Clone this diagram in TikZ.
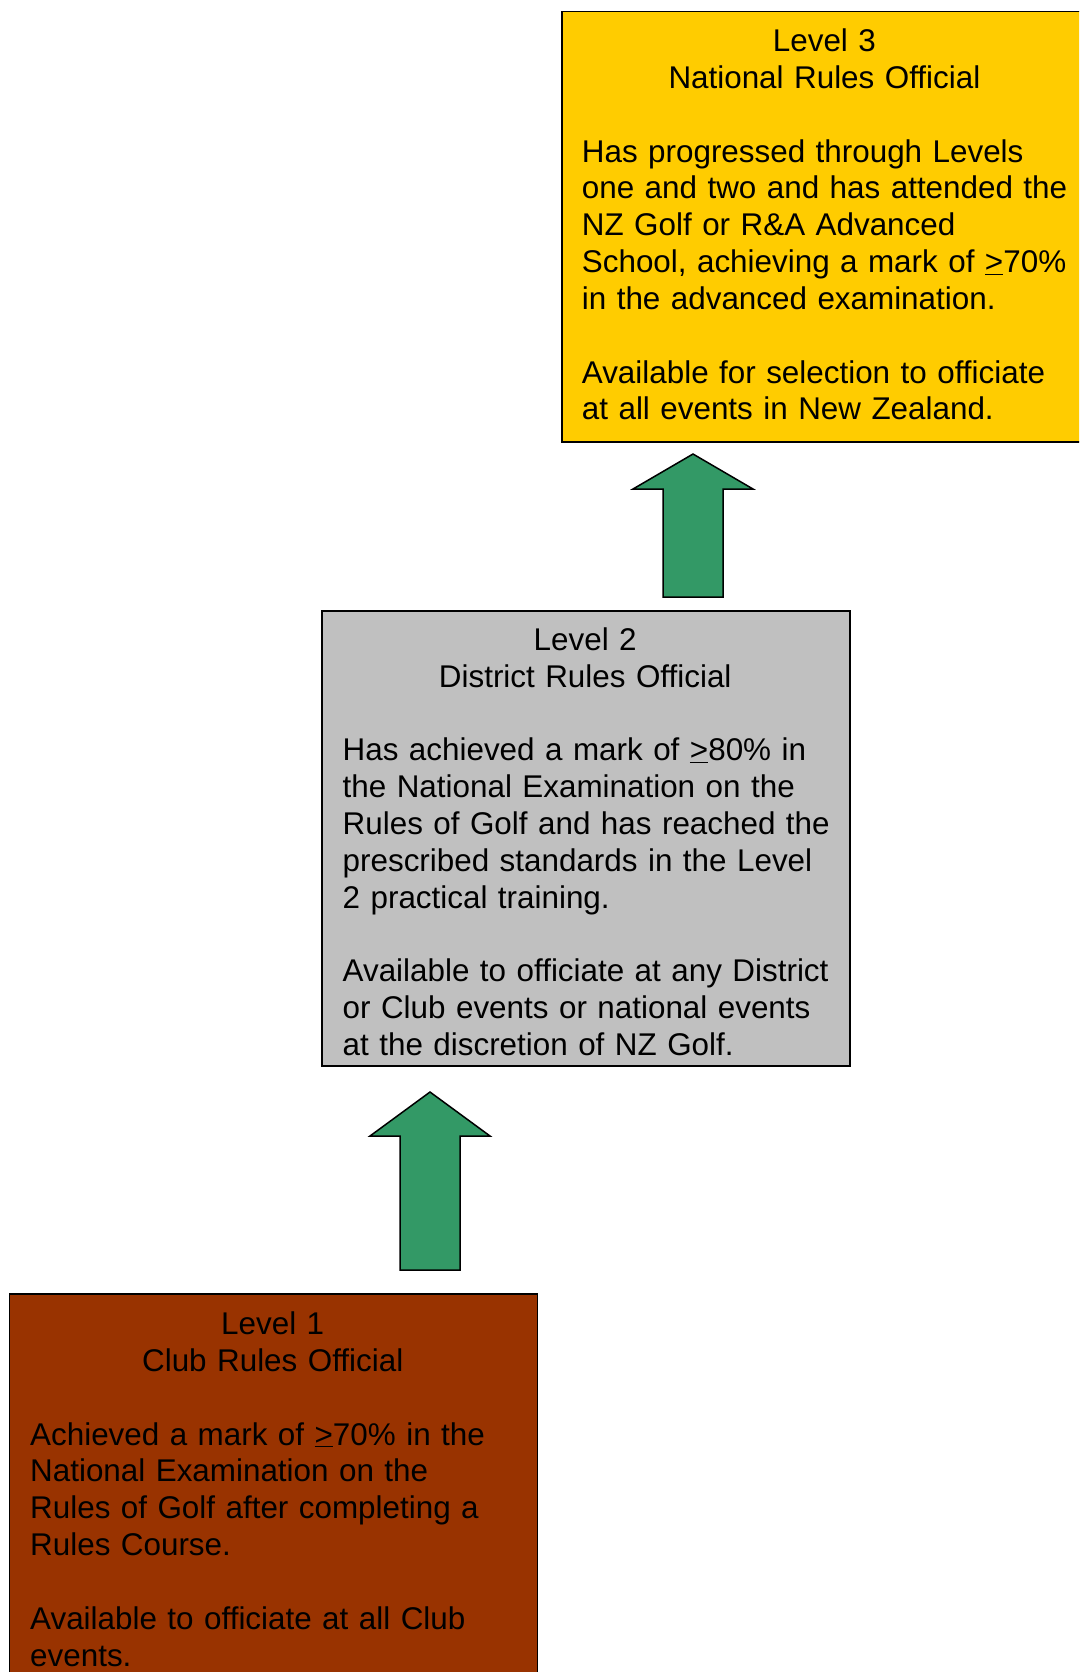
\documentclass[tikz,border=0pt]{standalone}
\usepackage{fontspec}
\setmainfont{Liberation Sans}
\usetikzlibrary{positioning}
\definecolor{levelgold}{HTML}{FFCC00}
\definecolor{levelgrey}{HTML}{C0C0C0}
\definecolor{levelbrown}{HTML}{993300}
\definecolor{arrowgreen}{HTML}{339966}
\newcommand{\lvltitle}[1]{\makebox[485pt]{#1}}
\newcommand{\ulgeq}{\underline{>}}

\begin{document}
\begin{tikzpicture}[x=1pt,y=-1pt,
  lvlbox/.style={draw=black,line width=1.5pt,rectangle,anchor=north west,minimum width=528pt,inner sep=0pt},
  lvltext/.style={anchor=base west,inner sep=0pt,text width=560pt,align=left,font=\fontsize{31.4pt}{36.85pt}\selectfont},
  upshape/.style={draw=black,line width=1.5pt,fill=arrowgreen,line join=miter}]
\useasboundingbox (0,0) rectangle (1079,1672);
\clip (0,0) rectangle (1079,1672);

% level boxes
\node[lvlbox,fill=levelgold,minimum height=430.7pt] (lvlThree) at (561,10.7) {};
\node[lvlbox,fill=levelgrey,minimum height=455pt] (lvlTwo) at (321,610) {};
\node[lvlbox,fill=levelbrown,minimum height=460pt] (lvlOne) at (8.5,1293) {};

\node[lvltext] (lvlThreeText) at ([shift={(20.7pt,-40.8pt)}]lvlThree.north west) {%
\lvltitle{Level 3}\\
\lvltitle{National Rules Official}\\[36.85pt]
Has progressed through Levels\\
one and two and has attended the\\
NZ Golf or R\&A Advanced\\
School, achieving a mark of \ulgeq70\%\\
in the advanced examination.\\[36.85pt]
Available for selection to officiate\\
at all events in New Zealand.};

\node[lvltext] (lvlTwoText) at ([shift={(21.5pt,-40.3pt)}]lvlTwo.north west) {%
\lvltitle{Level 2}\\
\lvltitle{District Rules Official}\\[36.85pt]
Has achieved a mark of \ulgeq80\% in\\
the National Examination on the\\
Rules of Golf and has reached the\\
prescribed standards in the Level\\
2 practical training.\\[36.85pt]
Available to officiate at any District\\
or Club events or national events\\
at the discretion of NZ Golf.};

\node[lvltext] (lvlOneText) at ([shift={(21.5pt,-41.5pt)}]lvlOne.north west) {%
\lvltitle{Level 1}\\
\lvltitle{Club Rules Official}\\[36.85pt]
Achieved a mark of \ulgeq70\% in the\\
National Examination on the\\
Rules of Golf after completing a\\
Rules Course.\\[36.85pt]
Available to officiate at all Club\\
events.};

% block arrows between the levels
\draw[upshape] (633,489) -- (693,454) -- (753,489) -- (723,489) -- (723,597) -- (663,597) -- (663,489) -- cycle;
\draw[upshape] (370,1136) -- (430,1092) -- (490,1136) -- (460,1136) -- (460,1270) -- (400,1270) -- (400,1136) -- cycle;
\end{tikzpicture}
\end{document}
